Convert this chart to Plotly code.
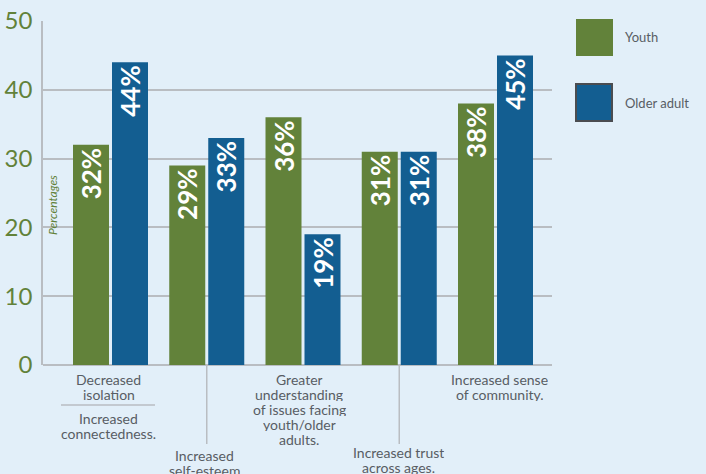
import plotly.graph_objects as go

# ---- data ----
categories = [0, 1, 2, 3, 4]
label_lines = [
    ["Decreased", "isolation"],
    ["Increased", "self-esteem"],
    ["Greater", "understanding", "of issues facing", "youth/older", "adults."],
    ["Increased trust", "across ages."],
    ["Increased sense", "of community."],
]
sub_label = ["Increased", "connectedness."]
youth = [32, 29, 36, 31, 38]
older = [44, 33, 19, 31, 45]
series_names = ["Youth", "Older adult"]
y_ticks = [0, 10, 20, 30, 40, 50]

# ---- style ----
GREEN = "#62823a"
BLUE = "#135e91"
BG = "#e2eff9"
GRID = "#b9bdc2"
TXT = "#585d64"
FONT = "Lato"

L, R, T, B = 43, 552, 21, 365
W, H = 706, 474
PX_PER_CAT = 96.25
C0 = 110.5

def px_x(p):
    return (p - L) / (R - L)

def px_y(p):
    return (B - p) / (B - T)

bw = 36 / PX_PER_CAT
fig = go.Figure()
for vals, name, color, off in [(youth, series_names[0], GREEN, -37.5),
                               (older, series_names[1], BLUE, 1.5)]:
    fig.add_trace(go.Bar(
        x=categories, y=vals, name=name, marker_color=color,
        width=bw, offset=off / PX_PER_CAT,
        texttemplate="%{y}%", textposition="inside", insidetextanchor="end",
        textangle=-90, constraintext="none",
        textfont=dict(family=FONT, size=26, color="white", weight="bold"),
        showlegend=False, marker_line_width=0,
    ))

annotations = []
shapes = []

# category labels (per line, 15px spacing)
label_start_y = [379, 455, 379, 452, 379]
label_xshift = [-2, -2.5, -4, -0.5, 4]
for i, lines in enumerate(label_lines):
    for j, line in enumerate(lines):
        annotations.append(dict(
            x=categories[i], xref="x", y=px_y(label_start_y[i] + 15 * j), yref="paper",
            text=line, showarrow=False, xanchor="center", yanchor="middle",
            xshift=label_xshift[i], height=14,
            font=dict(family=FONT, size=14, color=TXT),
        ))
for j, line in enumerate(sub_label):
    annotations.append(dict(
        x=categories[0], xref="x", y=px_y(418 + 15 * j), yref="paper",
        text=line, showarrow=False, xanchor="center", yanchor="middle",
        xshift=-2, height=14, font=dict(family=FONT, size=14, color=TXT),
    ))
# separator under "Decreased isolation"
shapes.append(dict(type="line", xref="paper", yref="paper",
                   x0=px_x(61), x1=px_x(155), y0=px_y(405), y1=px_y(405),
                   line=dict(color=GRID, width=1.5)))
# leader lines for lower labels
for i in (1, 3):
    shapes.append(dict(type="line", xref="x", yref="paper",
                       x0=categories[i], x1=categories[i], y0=0, y1=px_y(444),
                       line=dict(color=GRID, width=1.5)))

# y title
annotations.append(dict(
    x=px_x(52), xref="paper", y=px_y(205), yref="paper", text="<i>Percentages</i>",
    showarrow=False, textangle=-90, xanchor="center", yanchor="middle",
    font=dict(family=FONT, size=12, color=GREEN),
))

# custom legend
shapes.append(dict(type="rect", xref="paper", yref="paper",
                   x0=px_x(576), x1=px_x(613), y0=px_y(56), y1=px_y(19),
                   fillcolor=GREEN, line=dict(width=0)))
shapes.append(dict(type="rect", xref="paper", yref="paper",
                   x0=px_x(576), x1=px_x(612), y0=px_y(121), y1=px_y(84),
                   fillcolor=BLUE, line=dict(color="#4a4c50", width=2)))
for name, yy in zip(series_names, [37, 103]):
    annotations.append(dict(
        x=px_x(623), xref="paper", y=px_y(yy), yref="paper", text=name,
        showarrow=False, xanchor="left", yanchor="middle",
        font=dict(family=FONT, size=13, color=TXT),
    ))

fig.update_layout(
    width=W, height=H,
    margin=dict(l=L, r=W - R, t=T, b=H - B, pad=0, autoexpand=False),
    paper_bgcolor=BG, plot_bgcolor=BG,
    barmode="overlay",
    xaxis=dict(range=[(L - C0) / PX_PER_CAT, (R - C0) / PX_PER_CAT],
               showticklabels=False, showgrid=False, zeroline=False,
               showline=False, ticks="", automargin=False),
    yaxis=dict(range=[0, 50], tickvals=y_ticks, showgrid=True, gridcolor=GRID,
               gridwidth=1.5, zeroline=True, zerolinecolor=GRID, zerolinewidth=1.5,
               showline=True, linecolor=GRID, linewidth=1.5, ticks="",
               ticklabelstandoff=4, automargin=False,
               tickfont=dict(family=FONT, size=24, color=GREEN)),
    annotations=annotations, shapes=shapes,
    showlegend=False,
)

fig.write_html(
    "out.html",
    config={"displayModeBar": False},
    post_script="document.body.style.margin='0';document.body.style.overflow='hidden';",
)
